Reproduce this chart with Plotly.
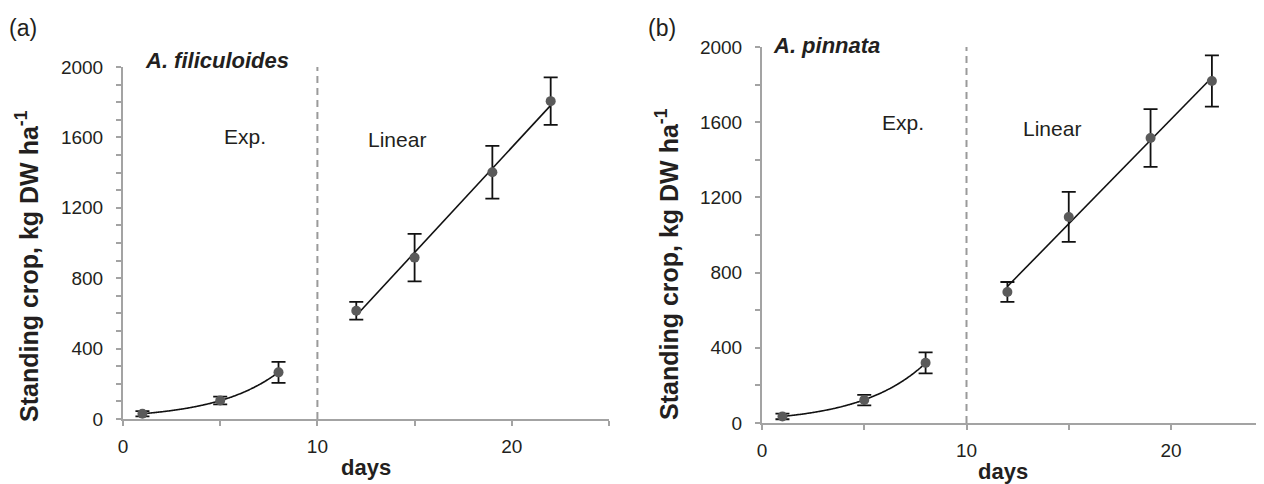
import numpy as np
import plotly.graph_objects as go

# page body has an 8px margin; the figure is sized/positioned to compensate
OFF = 8
W, H = 1264 - OFF, 484 - OFF

# ---- data ----
days_exp = [1, 5, 8]
days_lin = [12, 15, 19, 22]

fil_exp = [30, 105, 265]
fil_exp_err = [15, 22, 60]
fil_lin = [615, 917, 1402, 1806]
fil_lin_err = [50, 135, 150, 135]

pin_exp = [35, 122, 320]
pin_exp_err = [15, 28, 56]
pin_lin = [697, 1096, 1516, 1819]
pin_lin_err = [53, 133, 154, 136]

y_ticks = [0, 400, 800, 1200, 1600, 2000]
x_ticks = [0, 10, 20]

FONT = "Liberation Sans, Arial, Helvetica, sans-serif"
TXT = "#231f20"
AX = "#a3a3a3"
MK = "#5a5a5a"


def px(x):
    return (x - OFF) / W


def py(y):
    return 1 - (y - OFF) / H


fig = go.Figure()


def add_panel(xa, ya, ye, ye_err, yl, yl_err):
    xs = "x" if xa == 1 else "x2"
    ys = "y" if ya == 1 else "y2"
    # exponential fit
    b, a = np.polyfit(days_exp, np.log(ye), 1)
    xf = np.linspace(days_exp[0], days_exp[-1], 120)
    fig.add_trace(go.Scatter(x=xf, y=np.exp(a + b * xf), mode="lines",
                             line=dict(color="#111", width=1.6, shape="spline"),
                             xaxis=xs, yaxis=ys, showlegend=False, hoverinfo="skip"))
    # linear fit
    m, c = np.polyfit(days_lin, yl, 1)
    xl = np.array([days_lin[0], days_lin[-1]])
    fig.add_trace(go.Scatter(x=xl, y=m * xl + c, mode="lines",
                             line=dict(color="#111", width=1.6),
                             xaxis=xs, yaxis=ys, showlegend=False, hoverinfo="skip"))
    for xv, yv, ev in [(days_exp, ye, ye_err), (days_lin, yl, yl_err)]:
        fig.add_trace(go.Scatter(
            x=xv, y=yv, mode="markers",
            marker=dict(color=MK, size=10),
            error_y=dict(type="data", array=ev, visible=True, color="#111",
                         thickness=1.8, width=7),
            xaxis=xs, yaxis=ys, showlegend=False))
    fig.add_shape(type="line", x0=10, x1=10, y0=0, y1=2000, xref=xs, yref=ys,
                  line=dict(color="#9a9a9a", width=2, dash="7px,5px"), layer="below")


add_panel(1, 1, fil_exp, fil_exp_err, fil_lin, fil_lin_err)
add_panel(2, 2, pin_exp, pin_exp_err, pin_lin, pin_lin_err)

axis_common = dict(showgrid=False, zeroline=False, showline=True, linecolor=AX,
                   linewidth=2, ticks="outside", tickcolor=AX, ticklen=5, tickwidth=2,
                   automargin=False,
                   tickfont=dict(family=FONT, size=19, color=TXT))

fig.update_layout(
    width=W, height=H,
    margin=dict(l=0, r=0, t=0, b=0),
    paper_bgcolor="white", plot_bgcolor="white",
    showlegend=False,
    xaxis=dict(domain=[px(123), px(609)], range=[0, 25], tickvals=x_ticks,
               minor=dict(tickvals=[5, 15, 25], ticklen=5, tickcolor=AX, tickwidth=2, ticks="outside"),
               anchor="y", ticklabelstandoff=4, **axis_common),
    yaxis=dict(domain=[py(419), py(67)], range=[0, 2000], tickvals=y_ticks,
               minor=dict(dtick=100, ticklen=5, tickcolor=AX, tickwidth=2, ticks="outside"),
               anchor="x", ticklabelstandoff=9, **axis_common),
    xaxis2=dict(domain=[px(762), 1.0], range=[0, (1264 - 762) / 20.45], tickvals=x_ticks,
                minor=dict(tickvals=[5, 15], ticklen=5, tickcolor=AX, tickwidth=2, ticks="outside"),
                anchor="y2", ticklabelstandoff=4, **axis_common),
    yaxis2=dict(domain=[py(423), py(47)], range=[0, 2000], tickvals=y_ticks,
                minor=dict(dtick=200, ticklen=5, tickcolor=AX, tickwidth=2, ticks="outside"),
                anchor="x2", ticklabelstandoff=9, **axis_common),
)


def note(text, x, y, size, bold=False, italic=False, angle=0):
    t = text
    if italic:
        t = "<i>" + t + "</i>"
    if bold:
        t = "<b>" + t + "</b>"
    fig.add_annotation(text=t, x=px(x), y=py(y), xref="paper", yref="paper",
                       showarrow=False, textangle=angle, xanchor="center", yanchor="middle",
                       font=dict(family=FONT, size=size, color=TXT))


note("(a)", 23, 28, 23)
note("(b)", 662, 28, 23)
note("A. filiculoides", 217, 60, 22, bold=True, italic=True)
note("A. pinnata", 826, 46, 22, bold=True, italic=True)
note("Exp.", 245, 137, 21)
note("Exp.", 903, 122, 21)
note("Linear", 397, 139, 21)
note("Linear", 1052, 128, 21)
note("days", 366, 467, 22, bold=True)
note("days", 1003, 471, 22, bold=True)
ytitle = "Standing crop, kg DW ha<sup>-1</sup>"
note(ytitle, 27, 266, 25, bold=True, angle=-90)
note(ytitle, 667, 264, 25, bold=True, angle=-90)

fig.write_html("out.html")
